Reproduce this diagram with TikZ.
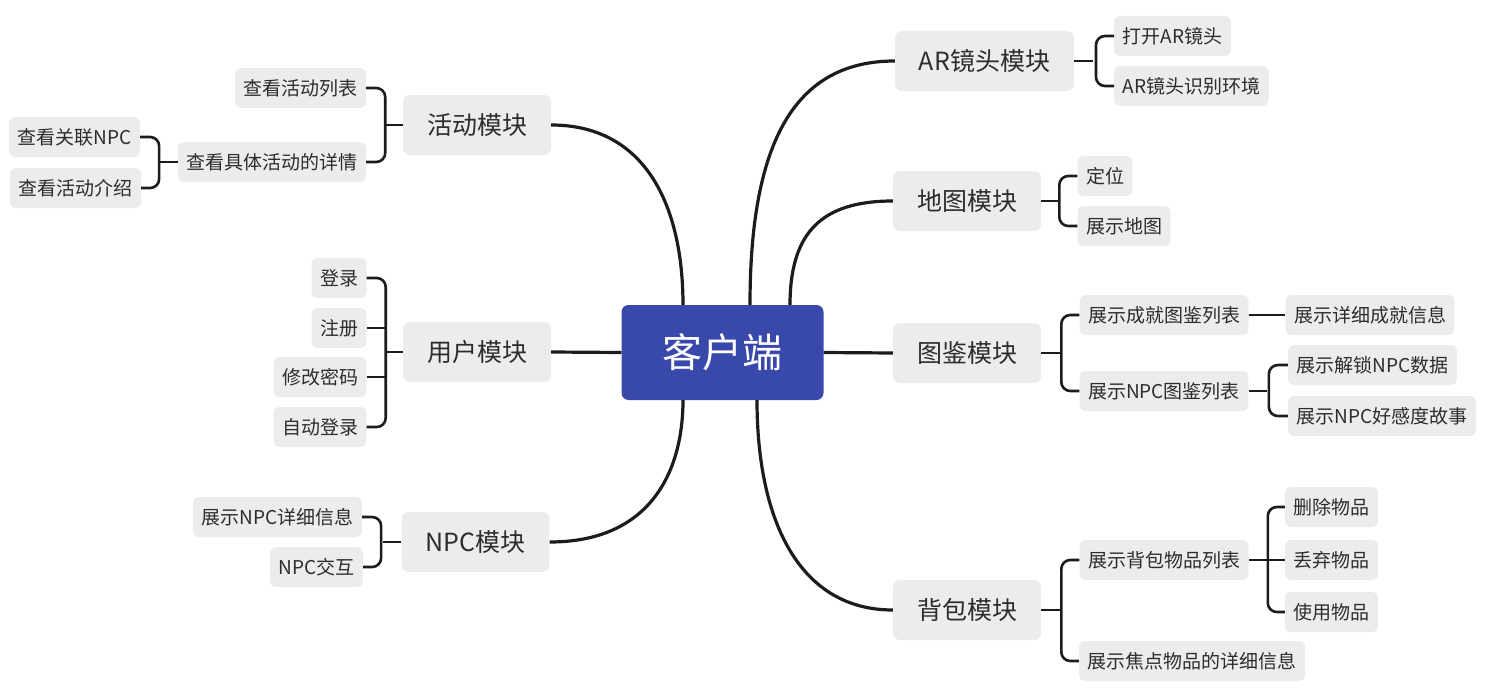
\documentclass[tikz,border=0pt]{standalone}
\usepackage{fontspec}
\newfontfamily\cjk{Noto Sans CJK SC}
\usepackage{tikz}
\usetikzlibrary{calc}
\definecolor{hubblue}{RGB}{57,73,171}
\definecolor{boxgray}{RGB}{236,236,236}
\definecolor{inkgray}{RGB}{45,45,45}
\definecolor{wire}{RGB}{28,28,28}

\begin{document}
\begin{tikzpicture}[x=1pt, y=-1pt, hub/.style={fill=hubblue, rounded corners=7pt, minimum height=95pt, inner xsep=41pt, text=white, font=\cjk\fontsize{40}{46}\selectfont}, modbox/.style={fill=boxgray, rounded corners=7pt, minimum height=60pt, inner xsep=24pt, text=inkgray, font=\cjk\fontsize{25}{30}\selectfont}, leafbox/.style={fill=boxgray, rounded corners=6pt, minimum height=40pt, inner xsep=8.5pt, text=inkgray, font=\cjk\fontsize{19}{23}\selectfont}, trunk/.style={draw=wire, line width=3.2pt}, br/.style={draw=wire, line width=2.6pt, rounded corners=9pt}
]
  \useasboundingbox (0,0) rectangle (1486,693);
  \node[hub] (hub) at (722.5,352.5) {客户端};
  % left side
  \node[modbox] (act) at (477,125) {活动模块};
  \node[leafbox] (actlist) at (300.5,88) {查看活动列表};
  \node[leafbox] (actdetail) at (272,162) {查看具体活动的详情};
  \node[leafbox] (actnpc) at (74.5,137) {查看关联NPC};
  \node[leafbox] (actintro) at (75.5,188) {查看活动介绍};
  \node[modbox] (user) at (477,352) {用户模块};
  \node[leafbox] (login) at (339,278) {登录};
  \node[leafbox] (reg) at (339,328) {注册};
  \node[leafbox] (pwd) at (320,377) {修改密码};
  \node[leafbox] (autolog) at (320,427) {自动登录};
  \node[modbox] (npc) at (475.5,542) {NPC模块};
  \node[leafbox] (npcinfo) at (277.5,517) {展示NPC详细信息};
  \node[leafbox] (npcact) at (316.5,567) {NPC交互};
  % right side
  \node[modbox] (ar) at (984.5,61) {AR镜头模块};
  \node[leafbox] (aropen) at (1172.5,36) {打开AR镜头};
  \node[leafbox] (arscan) at (1191.5,86) {AR镜头识别环境};
  \node[modbox] (map) at (967,201) {地图模块};
  \node[leafbox] (mappos) at (1105,176) {定位};
  \node[leafbox] (mapshow) at (1124,226) {展示地图};
  \node[modbox] (book) at (967,353) {图鉴模块};
  \node[leafbox] (bookach) at (1164,315) {展示成就图鉴列表};
  \node[leafbox] (bookachinfo) at (1370,315) {展示详细成就信息};
  \node[leafbox] (booknpc) at (1164,391) {展示NPC图鉴列表};
  \node[leafbox] (booknpcdata) at (1372.5,365) {展示解锁NPC数据};
  \node[leafbox] (booknpcstory) at (1382,416) {展示NPC好感度故事};
  \node[modbox] (bag) at (967,610) {背包模块};
  \node[leafbox] (baglist) at (1164,560) {展示背包物品列表};
  \node[leafbox] (bagfocus) at (1192,661) {展示焦点物品的详细信息};
  \node[leafbox] (bagdel) at (1331.5,507) {删除物品};
  \node[leafbox] (bagdrop) at (1331.5,560) {丢弃物品};
  \node[leafbox] (baguse) at (1331.5,612) {使用物品};

  % hub to modules
  \coordinate (hubtl) at (683,305);
  \coordinate (hubtr) at (750,305);
  \coordinate (hubtm) at (790,305);
  \coordinate (hubbl) at (683,400);
  \coordinate (hubbr) at (757,400);
  \draw[trunk] (act.east) .. controls (645,125) and (683,205) .. (hubtl);
  \draw[trunk] (hubtr) .. controls (750,150) and (790,61) .. (ar.west);
  \draw[trunk] (hubtm) .. controls (790,232) and (822,201) .. (map.west);
  \draw[trunk] (hub.west) -- (user.east);
  \draw[trunk] (hub.east) -- (book.west);
  \draw[trunk] (npc.east) .. controls (650,542) and (683,472) .. (hubbl);
  \draw[trunk] (hubbr) .. controls (757,522) and (800,610) .. (bag.west);

  % brackets, left
  \draw[br] (act.west) -- ++(-18,0);
  \draw[br] (actlist.east) -- ++(19,0) |- (actdetail.east);
  \draw[br] (actdetail.west) -- ++(-18,0);
  \draw[br] (actnpc.east) -- ++(19,0) |- (actintro.east);
  \draw[br] (user.west) -- ++(-18,0);
  \draw[br] (login.east) -- ++(19,0) |- (autolog.east);
  \draw[br] (reg.east) -- ++(19,0);
  \draw[br] (pwd.east) -- ++(19,0);
  \draw[br] (npc.west) -- ++(-18,0);
  \draw[br] (npcinfo.east) -- ++(19,0) |- (npcact.east);
  % brackets, right
  \draw[br] (ar.east) -- ++(19,0);
  \draw[br] (aropen.west) -- ++(-18,0) |- (arscan.west);
  \draw[br] (map.east) -- ++(19,0);
  \draw[br] (mappos.west) -- ++(-18,0) |- (mapshow.west);
  \draw[br] (book.east) -- ++(19,0);
  \draw[br] (bookach.west) -- ++(-18,0) |- (booknpc.west);
  \draw[br] (bookach.east) -- (bookachinfo.west);
  \draw[br] (booknpc.east) -- ++(18,0);
  \draw[br] (booknpcdata.west) -- ++(-19,0) |- (booknpcstory.west);
  \draw[br] (bag.east) -- ++(19,0);
  \draw[br] (baglist.west) -- ++(-18,0) |- (bagfocus.west);
  \draw[br] (baglist.east) -- (bagdrop.west);
  \draw[br] (bagdel.west) -- ++(-17,0) |- (baguse.west);
\end{tikzpicture}
\end{document}
